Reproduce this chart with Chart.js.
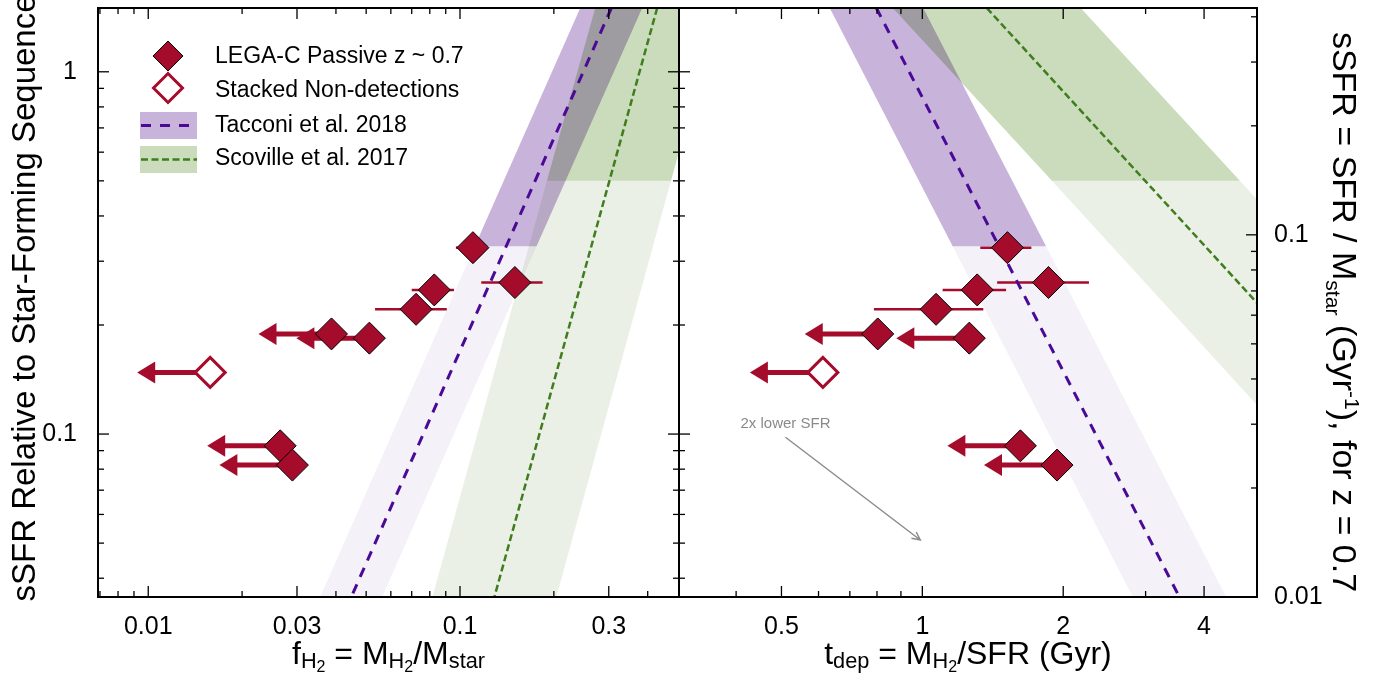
<!DOCTYPE html>
<html>
<head>
<meta charset="utf-8">
<script src="https://cdn.jsdelivr.net/npm/chart.js@4.4.1/dist/chart.umd.min.js"></script>
<style>
  html, body { margin: 0; padding: 0; background: #fff; }
  #wrap { position: relative; width: 1390px; height: 675px; overflow: hidden; }
  #left { position: absolute; left: 0; top: 0; }
  #right { position: absolute; left: 670px; top: 0; }
</style>
</head>
<body>
<div id="wrap">
  <canvas id="left" width="690" height="675"></canvas>
  <canvas id="right" width="720" height="675"></canvas>
</div>
<script>
// values
const ssfrRel = [0.327, 0.262, 0.250, 0.221, 0.189, 0.184, 0.148, 0.0928, 0.0821];
const fH2 = [0.110, 0.150, 0.0827, 0.0723, 0.0387, 0.0512, 0.0158, 0.0265, 0.0290];
const fH2Lo = [0.097, 0.117, 0.070, 0.0534, null, null, null, null, null];
const fH2Hi = [0.122, 0.184, 0.0957, 0.0907, null, null, null, null, null];
const tDep = [1.52, 1.86, 1.31, 1.07, 0.803, 1.26, 0.613, 1.62, 1.94];
const tDepLo = [1.33, 1.445, 1.105, 0.788, null, null, null, null, null];
const tDepHi = [1.71, 2.27, 1.51, 1.35, null, null, null, null, null];
const upperLimit = [false, false, false, false, true, true, true, true, true];
const stacked = [false, false, false, false, false, false, true, false, false];

// axis ranges
const relRange = [0.0355, 1.5];
const fRange = [0.0069, 0.504];
const tRange = [0.302, 5.19];
const ssfrRange = [0.01, 0.423];

// tick values and labels
const relMajor = [0.1, 1];
const relLabels = ['0.1', '1'];
const relMinor = [0.04, 0.05, 0.06, 0.07, 0.08, 0.09, 0.2, 0.3, 0.4, 0.5, 0.6, 0.7, 0.8, 0.9];
const fMajor = [0.01, 0.03, 0.1, 0.3];
const fLabels = ['0.01', '0.03', '0.1', '0.3'];
const fMinor = [0.007, 0.008, 0.009, 0.02, 0.04, 0.05, 0.06, 0.07, 0.08, 0.09, 0.2, 0.4];
const tMajor = [0.5, 1, 2, 4];
const tLabels = ['0.5', '1', '2', '4'];
const tMinor = [0.4, 0.6, 0.7, 0.8, 0.9, 3];
const ssfrMajor = [0.01, 0.1];
const ssfrLabels = ['0.01', '0.1'];
const ssfrMinor = [0.02, 0.03, 0.04, 0.05, 0.06, 0.07, 0.08, 0.09, 0.2, 0.3, 0.4];

// scaling relations (lines) and their bands, [x, sSFR/SFS] corners
const tacconiF = [[0.306, 1.5], [0.0448, 0.0355]];
const scovilleF = [[0.429, 1.5], [0.1289, 0.0355]];
const tacconiFDark = [[0.243, 1.5], [0.384, 1.5], [0.176, 0.33], [0.1115, 0.33]];
const tacconiFLight = [[0.1115, 0.33], [0.176, 0.33], [0.0563, 0.0355], [0.0356, 0.0355]];
const scovilleFDark = [[0.2715, 1.5], [0.678, 1.5], [0.475, 0.5], [0.190, 0.5]];
const scovilleFLight = [[0.190, 0.5], [0.475, 0.5], [0.2037, 0.0355], [0.0816, 0.0355]];

const tacconiT = [[0.7975, 1.5], [3.543, 0.0355]];
const scovilleT = [[1.373, 1.5], [19.55, 0.0355]];
const tacconiTDark = [[0.634, 1.5], [1.004, 1.5], [1.838, 0.33], [1.161, 0.33]];
const tacconiTLight = [[1.161, 0.33], [1.838, 0.33], [4.459, 0.0355], [2.816, 0.0355]];
const scovilleTDark = [[0.865, 1.5], [2.18, 1.5], [4.771, 0.5], [1.892, 0.5]];
const scovilleTLight = [[1.892, 0.5], [4.771, 0.5], [31.05, 0.0355], [12.31, 0.0355]];

// "2x lower SFR" arrow
const sfrArrowT = [0.51, 0.99];
const sfrArrowY = [0.098, 0.051];
const sfrArrowText = '2x lower SFR';

const legendLabels = ['LEGA-C Passive z ~ 0.7', 'Stacked Non-detections', 'Tacconi et al. 2018', 'Scoville et al. 2017'];

const FAM = "'Liberation Sans', Arial, Helvetica, sans-serif";
const RED = '#a50b2b';
const PURPLE = '#4b0a96';
const GREEN = '#3f7d1f';
const PURPLE_DARK = '#c8b4da';
const PURPLE_LIGHT = '#f4f2f8';
const GREEN_DARK = '#cadcbc';
const GREEN_LIGHT = '#eaf0e6';

function pts(xs, keep) {
  return xs.map((x, i) => ({ x: x, y: ssfrRel[i] })).filter((p, i) => keep(i));
}
function linePts(arr) {
  return arr.map(p => ({ x: p[0], y: p[1] }));
}

function diamond(ctx, x, y, r, fill, stroke, lw) {
  ctx.beginPath();
  ctx.moveTo(x, y - r); ctx.lineTo(x + r, y); ctx.lineTo(x, y + r); ctx.lineTo(x - r, y);
  ctx.closePath();
  ctx.fillStyle = fill; ctx.fill();
  ctx.lineWidth = lw; ctx.strokeStyle = stroke; ctx.stroke();
}

function richText(ctx, parts, size, cx, cy, rot) {
  ctx.save();
  ctx.translate(cx, cy);
  ctx.rotate(rot);
  let w = 0;
  parts.forEach(p => { ctx.font = (size * p[1]) + 'px ' + FAM; w += ctx.measureText(p[0]).width; });
  let x = -w / 2;
  ctx.fillStyle = '#000';
  ctx.textBaseline = 'alphabetic';
  parts.forEach(p => {
    ctx.font = (size * p[1]) + 'px ' + FAM;
    ctx.fillText(p[0], x, p[2]);
    x += ctx.measureText(p[0]).width;
  });
  ctx.restore();
}

function fillBands(chart, polys) {
  const { ctx, chartArea: a, scales } = chart;
  ctx.save();
  ctx.beginPath();
  ctx.rect(a.left, a.top, a.right - a.left, a.bottom - a.top);
  ctx.clip();
  ctx.globalCompositeOperation = 'multiply';
  polys.forEach(([poly, color]) => {
    ctx.beginPath();
    poly.forEach(([x, y], i) => {
      const px = scales.x.getPixelForValue(x), py = scales.y.getPixelForValue(y);
      if (i) ctx.lineTo(px, py); else ctx.moveTo(px, py);
    });
    ctx.closePath();
    ctx.fillStyle = color;
    ctx.fill();
  });
  ctx.restore();
}

// error bars and upper-limit arrows
function drawLimits(chart, xs, lo, hi) {
  const { ctx, scales } = chart;
  ctx.save();
  ctx.strokeStyle = RED; ctx.fillStyle = RED;
  xs.forEach((x, i) => {
    const px = scales.x.getPixelForValue(x), py = scales.y.getPixelForValue(ssfrRel[i]);
    if (upperLimit[i]) {
      const tip = px - 73;
      ctx.lineWidth = 5;
      ctx.beginPath(); ctx.moveTo(px, py); ctx.lineTo(tip + 16, py); ctx.stroke();
      ctx.beginPath(); ctx.moveTo(tip, py); ctx.lineTo(tip + 18, py - 11); ctx.lineTo(tip + 18, py + 11);
      ctx.closePath(); ctx.fill();
    } else {
      ctx.lineWidth = 2.5;
      ctx.beginPath();
      ctx.moveTo(scales.x.getPixelForValue(lo[i]), py);
      ctx.lineTo(scales.x.getPixelForValue(hi[i]), py);
      ctx.stroke();
    }
  });
  ctx.restore();
}

// frame and inward ticks
function drawFrame(chart, specs) {
  const { ctx, chartArea: a } = chart;
  ctx.save();
  ctx.strokeStyle = '#000';
  ctx.lineWidth = 1.3;
  specs.forEach(sp => {
    const scale = chart.scales[sp.id];
    sp.sides.forEach(side => {
      [[sp.major, 11], [sp.minor, 6]].forEach(([vals, len]) => {
        vals.forEach(v => {
          const p = scale.getPixelForValue(v);
          ctx.beginPath();
          if (side === 'bottom') { ctx.moveTo(p, a.bottom); ctx.lineTo(p, a.bottom - len); }
          if (side === 'top') { ctx.moveTo(p, a.top); ctx.lineTo(p, a.top + len); }
          if (side === 'left') { ctx.moveTo(a.left, p); ctx.lineTo(a.left + len, p); }
          if (side === 'right') { ctx.moveTo(a.right, p); ctx.lineTo(a.right - len, p); }
          ctx.stroke();
        });
      });
    });
  });
  ctx.lineWidth = 2;
  ctx.strokeRect(a.left, a.top, a.right - a.left, a.bottom - a.top);
  ctx.restore();
}

function drawLegend(chart) {
  const ctx = chart.ctx;
  ctx.save();
  diamond(ctx, 168, 56, 15, RED, '#000', 1);
  diamond(ctx, 168, 88, 14.5, '#fff', RED, 3);
  ctx.fillStyle = PURPLE_DARK; ctx.fillRect(140, 112, 57, 27);
  ctx.fillStyle = GREEN_DARK; ctx.fillRect(140, 146, 57, 27);
  ctx.lineWidth = 3; ctx.strokeStyle = PURPLE; ctx.setLineDash([10, 9]);
  ctx.beginPath(); ctx.moveTo(141, 125.5); ctx.lineTo(197, 125.5); ctx.stroke();
  ctx.lineWidth = 2.5; ctx.strokeStyle = GREEN; ctx.setLineDash([7, 3.5]);
  ctx.beginPath(); ctx.moveTo(141, 159.5); ctx.lineTo(197, 159.5); ctx.stroke();
  ctx.setLineDash([]);
  ctx.fillStyle = '#000';
  ctx.font = '23px ' + FAM;
  ctx.textBaseline = 'middle';
  [57, 91, 126, 159].forEach((y, i) => ctx.fillText(legendLabels[i], 215, y));
  ctx.restore();
}

// fixed box size, and no extra room reserved for edge labels
function fixBox(w, h) {
  return s => {
    if (w !== null) s.width = w;
    if (h !== null) s.height = h;
    s.paddingTop = 0; s.paddingBottom = 0; s.paddingLeft = 0; s.paddingRight = 0;
  };
}

function logAxis(range, ticks, labels, extra) {
  return Object.assign({
    type: 'logarithmic',
    bounds: 'data',
    min: range[0],
    max: range[1],
    grid: { display: false },
    border: { display: false },
    afterBuildTicks: s => { s.ticks = ticks.map(v => ({ value: v })); },
    ticks: {
      autoSkip: false, maxRotation: 0, color: '#000', padding: 7,
      font: { family: FAM, size: 25 },
      callback: (v, i) => labels[i]
    }
  }, extra);
}

function scatterSets(xs, rel1, rel2) {
  return [
    { data: pts(xs, i => !stacked[i]), pointStyle: 'rectRot', pointRadius: 16, pointHoverRadius: 16,
      pointBackgroundColor: RED, pointBorderColor: '#000', pointBorderWidth: 1, order: 0 },
    { data: pts(xs, i => stacked[i]), pointStyle: 'rectRot', pointRadius: 15, pointHoverRadius: 15,
      pointBackgroundColor: '#fff', pointBorderColor: RED, pointBorderWidth: 3, order: 1 },
    { type: 'line', data: linePts(rel1), borderColor: PURPLE, borderWidth: 3, borderDash: [10, 8],
      pointRadius: 0, fill: false, clip: 0, order: 5 },
    { type: 'line', data: linePts(rel2), borderColor: GREEN, borderWidth: 2.5, borderDash: [7, 3.5],
      pointRadius: 0, fill: false, clip: 0, order: 6 }
  ];
}

const common = {
  responsive: false, animation: false, devicePixelRatio: 1, events: [],
  plugins: { legend: { display: false }, tooltip: { enabled: false } }
};

new Chart(document.getElementById('left'), {
  type: 'scatter',
  data: { datasets: scatterSets(fH2, tacconiF, scovilleF) },
  options: Object.assign({}, common, {
    layout: { autoPadding: false, padding: { left: 0, right: 11, top: 8, bottom: 0 } },
    scales: {
      x: logAxis(fRange, fMajor, fLabels, { afterFit: fixBox(null, 78) }),
      y: logAxis(relRange, relMajor, relLabels, { afterFit: fixBox(98, null), ticks: {
        autoSkip: false, color: '#000', padding: 13, font: { family: FAM, size: 25 },
        callback: (v, i) => relLabels[i] } })
    }
  }),
  plugins: [{
    id: 'leftExtras',
    beforeDatasetsDraw(chart) {
      fillBands(chart, [[tacconiFDark, PURPLE_DARK], [tacconiFLight, PURPLE_LIGHT],
        [scovilleFDark, GREEN_DARK], [scovilleFLight, GREEN_LIGHT]]);
      drawLimits(chart, fH2, fH2Lo, fH2Hi);
    },
    afterDraw(chart) {
      drawFrame(chart, [
        { id: 'x', sides: ['top', 'bottom'], major: fMajor, minor: fMinor },
        { id: 'y', sides: ['left', 'right'], major: relMajor, minor: relMinor }
      ]);
      drawLegend(chart);
      const a = chart.chartArea, ctx = chart.ctx;
      richText(ctx, [['f', 1, 0], ['H', 0.68, 4], ['2', 0.5, 8], [' = M', 1, 0], ['H', 0.68, 4],
        ['2', 0.5, 8], ['/M', 1, 0], ['star', 0.68, 4]], 32, (a.left + a.right) / 2, 664, 0);
      richText(ctx, [['sSFR Relative to Star-Forming Sequence', 1, 0]], 33, 35, 298, -Math.PI / 2);
    }
  }]
});

new Chart(document.getElementById('right'), {
  type: 'scatter',
  data: { datasets: scatterSets(tDep, tacconiT, scovilleT) },
  options: Object.assign({}, common, {
    layout: { autoPadding: false, padding: { left: 9, right: 0, top: 8, bottom: 0 } },
    scales: {
      x: logAxis(tRange, tMajor, tLabels, { afterFit: fixBox(null, 78) }),
      y: { type: 'logarithmic', display: false, bounds: 'data', min: relRange[0], max: relRange[1] },
      ys: logAxis(ssfrRange, ssfrMajor, ssfrLabels, { position: 'right', afterFit: fixBox(133, null), ticks: {
        autoSkip: false, color: '#000', padding: 9, font: { family: FAM, size: 25 },
        callback: (v, i) => ssfrLabels[i] } })
    }
  }),
  plugins: [{
    id: 'rightExtras',
    beforeDatasetsDraw(chart) {
      fillBands(chart, [[tacconiTDark, PURPLE_DARK], [tacconiTLight, PURPLE_LIGHT],
        [scovilleTDark, GREEN_DARK], [scovilleTLight, GREEN_LIGHT]]);
      drawLimits(chart, tDep, tDepLo, tDepHi);
      // 2x lower SFR arrow
      const { ctx, scales } = chart;
      const x0 = scales.x.getPixelForValue(sfrArrowT[0]), y0 = scales.y.getPixelForValue(sfrArrowY[0]);
      const x1 = scales.x.getPixelForValue(sfrArrowT[1]), y1 = scales.y.getPixelForValue(sfrArrowY[1]);
      const ang = Math.atan2(y1 - y0, x1 - x0);
      ctx.save();
      ctx.strokeStyle = '#8c8c8c'; ctx.lineWidth = 1.5;
      ctx.beginPath(); ctx.moveTo(x0, y0); ctx.lineTo(x1, y1);
      ctx.moveTo(x1 - 9 * Math.cos(ang - 0.45), y1 - 9 * Math.sin(ang - 0.45));
      ctx.lineTo(x1, y1);
      ctx.lineTo(x1 - 9 * Math.cos(ang + 0.45), y1 - 9 * Math.sin(ang + 0.45));
      ctx.stroke();
      ctx.fillStyle = '#8a8a8a'; ctx.font = '15px ' + FAM;
      ctx.textAlign = 'center'; ctx.textBaseline = 'middle';
      ctx.fillText(sfrArrowText, x0, y0 - 13);
      ctx.restore();
    },
    afterDraw(chart) {
      drawFrame(chart, [
        { id: 'x', sides: ['top', 'bottom'], major: tMajor, minor: tMinor },
        { id: 'y', sides: ['left'], major: relMajor, minor: relMinor },
        { id: 'ys', sides: ['right'], major: ssfrMajor, minor: ssfrMinor }
      ]);
      const a = chart.chartArea, ctx = chart.ctx;
      richText(ctx, [['t', 1, 0], ['dep', 0.68, 4], [' = M', 1, 0], ['H', 0.68, 4], ['2', 0.5, 8],
        ['/SFR (Gyr)', 1, 0]], 32, (a.left + a.right) / 2, 664, 0);
      richText(ctx, [['sSFR = SFR / M', 1, 0], ['star', 0.62, 7], [' (Gyr', 1, 0], ['-1', 0.62, -12],
        ['), for z = 0.7', 1, 0]], 34, 1333 - 670, 312, Math.PI / 2);
    }
  }]
});
</script>
</body>
</html>
